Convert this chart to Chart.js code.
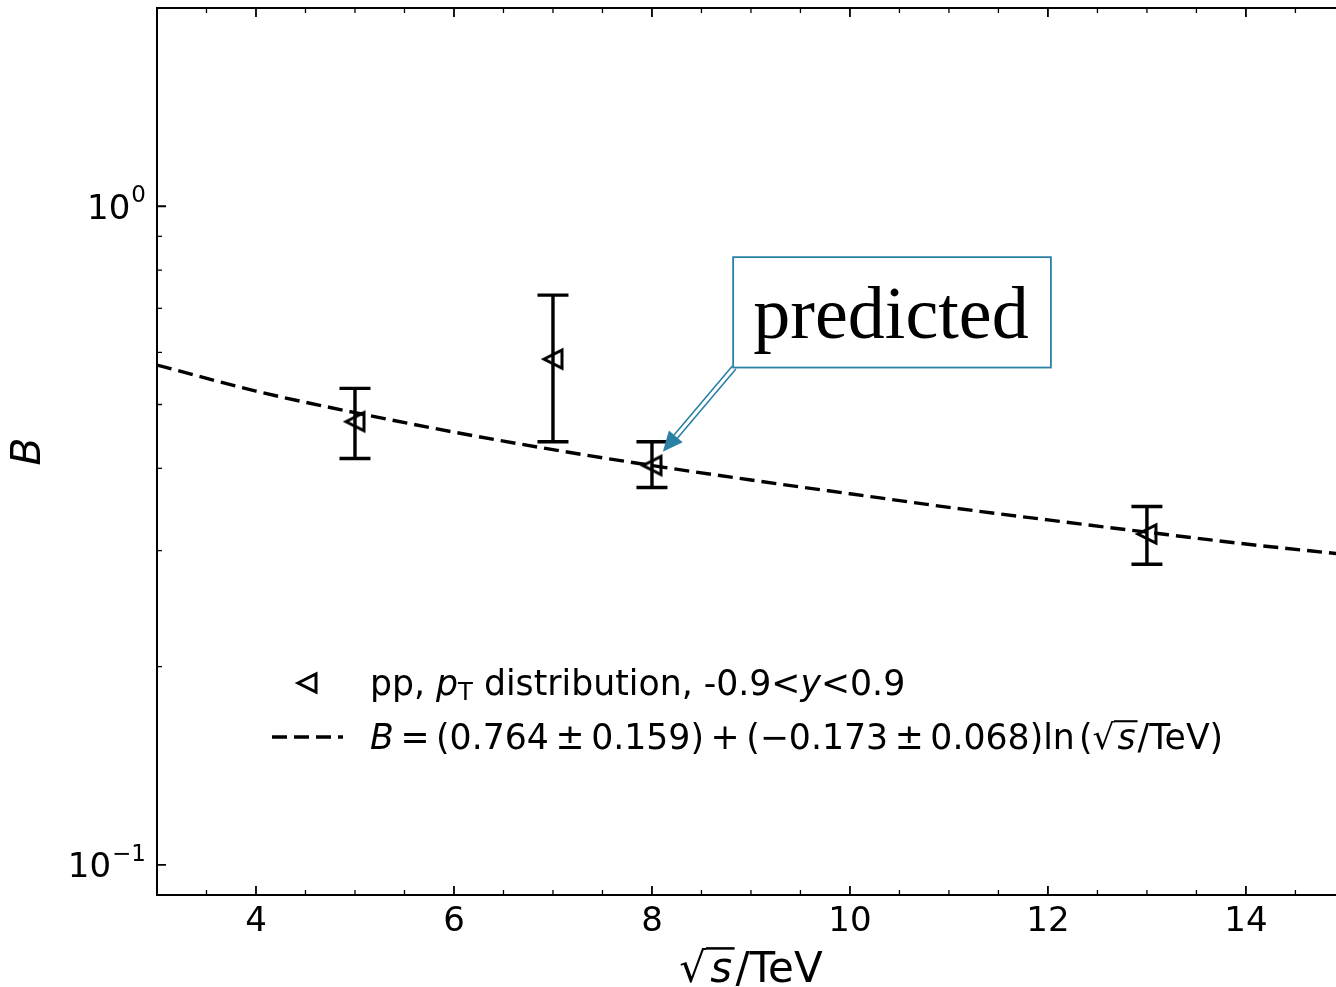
<!DOCTYPE html>
<html>
<head>
<meta charset="utf-8">
<script src="https://cdn.jsdelivr.net/npm/chart.js@4.4.0/dist/chart.umd.min.js"></script>
<style>
  html, body { margin: 0; padding: 0; background: #fff; overflow: hidden; }
  #wrap { width: 1336px; height: 987px; }
</style>
</head>
<body>
<div id="wrap"><canvas id="grafico" width="1336" height="987"></canvas></div>
<script>
// datos
const energias = [5, 7, 8, 13];
const valoresB = [0.471, 0.586, 0.404, 0.318];
const errInf = [0.414, 0.439, 0.374, 0.286];
const errSup = [0.529, 0.733, 0.439, 0.350];

// curva del ajuste
const ajusteX = [3, 4, 5, 6, 7, 8, 9, 10, 11, 12, 13, 14, 15];
const ajusteB = [0.574, 0.524, 0.486, 0.454, 0.427, 0.404, 0.384, 0.366, 0.349, 0.334, 0.320, 0.307, 0.296];

const xMayores = [4, 6, 8, 10, 12, 14];
const xMenores = [3.5, 4.5, 5, 5.5, 6.5, 7, 7.5, 8.5, 9, 9.5, 10.5, 11, 11.5, 12.5, 13, 13.5, 14.5];
const yMayores = [0.1, 1];
const yEtiquetas = [['10', '\u22121'], ['10', '0']];
const yMenores = [0.2, 0.3, 0.4, 0.5, 0.6, 0.7, 0.8, 0.9, 2];

const FUENTE = '"DejaVu Sans", sans-serif';
const AZUL = '#2b80a5';

// marcador triangulo hacia la izquierda (hueco)
function crearTriangulo() {
    const c = document.createElement('canvas');
    c.width = 26; c.height = 26;
    const g = c.getContext('2d');
    g.strokeStyle = '#000';
    g.lineWidth = 3;
    g.lineJoin = 'miter';
    g.beginPath();
    g.moveTo(4, 13);
    g.lineTo(22, 4);
    g.lineTo(22, 22);
    g.closePath();
    g.stroke();
    return c;
}
const triangulo = crearTriangulo();

// texto con tramos (cursiva, subindice, raiz, huecos)
function textoRico(ctx, x, y, tramos, tam, soloMedir) {
    let cx = x;
    tramos.forEach(t => {
        if (t.gap) { cx += t.gap * tam; return; }
        const esc = t.esc || 1;
        ctx.font = (t.it ? 'italic ' : '') + (tam * esc) + 'px ' + FUENTE;
        const w = ctx.measureText(t.s).width;
        if (!soloMedir) {
            ctx.fillText(t.s, cx, y + (t.dy || 0) * tam);
            if (t.raya) {
                ctx.save();
                ctx.lineWidth = Math.max(1.5, tam * 0.06);
                ctx.beginPath();
                ctx.moveTo(cx - tam * 0.1, y - tam * 0.8);
                ctx.lineTo(cx + w + tam * 0.06, y - tam * 0.8);
                ctx.stroke();
                ctx.restore();
            }
        }
        cx += w;
    });
    return cx - x;
}

const barrasError = {
    id: 'barrasError',
    beforeDatasetsDraw(chart) {
        const { ctx, scales: { x, y } } = chart;
        ctx.save();
        ctx.strokeStyle = '#000';
        ctx.lineWidth = 3.4;
        energias.forEach((e, i) => {
            const px = x.getPixelForValue(e);
            const p1 = y.getPixelForValue(errSup[i]);
            const p2 = y.getPixelForValue(errInf[i]);
            ctx.beginPath();
            ctx.moveTo(px, p1); ctx.lineTo(px, p2);
            ctx.moveTo(px - 15.5, p1); ctx.lineTo(px + 15.5, p1);
            ctx.moveTo(px - 15.5, p2); ctx.lineTo(px + 15.5, p2);
            ctx.stroke();
        });
        ctx.restore();
    }
};

const ejes = {
    id: 'ejes',
    afterDraw(chart) {
        const { ctx, chartArea: a, scales: { x, y } } = chart;
        ctx.save();
        ctx.strokeStyle = '#000';
        ctx.fillStyle = '#000';

        // marcas hacia dentro
        ctx.lineWidth = 1.8;
        ctx.beginPath();
        xMayores.forEach(v => {
            const p = x.getPixelForValue(v);
            ctx.moveTo(p, a.bottom); ctx.lineTo(p, a.bottom - 9);
            ctx.moveTo(p, a.top); ctx.lineTo(p, a.top + 9);
        });
        yMayores.forEach(v => {
            const p = y.getPixelForValue(v);
            ctx.moveTo(a.left, p); ctx.lineTo(a.left + 9, p);
        });
        ctx.stroke();
        ctx.lineWidth = 1.3;
        ctx.beginPath();
        xMenores.forEach(v => {
            const p = x.getPixelForValue(v);
            ctx.moveTo(p, a.bottom); ctx.lineTo(p, a.bottom - 5);
            ctx.moveTo(p, a.top); ctx.lineTo(p, a.top + 5);
        });
        yMenores.forEach(v => {
            const p = y.getPixelForValue(v);
            ctx.moveTo(a.left, p); ctx.lineTo(a.left + 5, p);
        });
        ctx.stroke();

        // bordes
        ctx.lineWidth = 2;
        ctx.beginPath();
        ctx.moveTo(a.right + 2, a.top); ctx.lineTo(a.left, a.top);
        ctx.lineTo(a.left, a.bottom); ctx.lineTo(a.right + 2, a.bottom);
        ctx.stroke();

        // etiquetas x
        ctx.font = '34px ' + FUENTE;
        ctx.textAlign = 'center';
        ctx.textBaseline = 'alphabetic';
        xMayores.forEach(v => ctx.fillText(String(v), x.getPixelForValue(v), a.bottom + 36));

        // etiquetas y (potencias de diez)
        ctx.textAlign = 'left';
        yMayores.forEach((v, i) => {
            const p = y.getPixelForValue(v);
            const [base, exp] = yEtiquetas[i];
            ctx.font = '34px ' + FUENTE;
            const wb = ctx.measureText(base).width;
            ctx.font = '23px ' + FUENTE;
            const we = ctx.measureText(exp).width;
            const x0 = a.left - 12 - wb - we;
            ctx.font = '34px ' + FUENTE;
            ctx.fillText(base, x0, p + 12.5);
            ctx.font = '23px ' + FUENTE;
            ctx.fillText(exp, x0 + wb + 1, p - 4);
        });

        // titulo x
        const tit = [{ s: '\u221A' }, { gap: 0.1 }, { s: 's', it: true, raya: true }, { gap: 0.08 }, { s: '/TeV' }];
        const wt = textoRico(ctx, 0, 0, tit, 42, true);
        const centro = (a.left + x.getPixelForValue(15)) / 2;
        textoRico(ctx, centro - wt / 2, 982, tit, 42);

        // titulo y
        ctx.save();
        ctx.translate(29, (a.top + a.bottom) / 2);
        ctx.rotate(-Math.PI / 2);
        ctx.textAlign = 'center';
        ctx.textBaseline = 'middle';
        ctx.font = 'italic 41px ' + FUENTE;
        ctx.fillText('B', 0, 0);
        ctx.restore();

        ctx.restore();
    }
};

const leyenda = {
    id: 'leyenda',
    afterDraw(chart) {
        const { ctx } = chart;
        ctx.save();
        ctx.fillStyle = '#000';
        ctx.strokeStyle = '#000';
        ctx.textAlign = 'left';
        ctx.textBaseline = 'alphabetic';
        // fila 1
        ctx.drawImage(triangulo, 307 - 13, 683 - 13);
        textoRico(ctx, 370, 695, [
            { s: 'pp, ' }, { s: 'p', it: true }, { s: 'T', esc: 0.7, dy: 0.15 },
            { s: ' distribution, -0.9<' }, { s: 'y', it: true }, { s: '<0.9' }
        ], 34.7);
        // fila 2
        ctx.lineWidth = 3.4;
        ctx.setLineDash([15, 7]);
        ctx.beginPath();
        ctx.moveTo(272, 737); ctx.lineTo(343, 737);
        ctx.stroke();
        ctx.setLineDash([]);
        const g = 0.19;
        textoRico(ctx, 370, 749, [
            { s: 'B', it: true }, { gap: g }, { s: '=' }, { gap: g }, { s: '(0.764' }, { gap: g },
            { s: '\u00B1' }, { gap: g }, { s: '0.159)' }, { gap: g }, { s: '+' }, { gap: g },
            { s: '(\u22120.173' }, { gap: g }, { s: '\u00B1' }, { gap: g }, { s: '0.068)ln' }, { gap: 0.12 },
            { s: '(' }, { s: '\u221A' }, { gap: 0.08 }, { s: 's', it: true, raya: true }, { gap: 0.06 }, { s: '/TeV)' }
        ], 34.7);
        ctx.restore();
    }
};

const anotacion = {
    id: 'anotacion',
    afterDraw(chart) {
        const { ctx, scales: { x, y } } = chart;
        const x0 = x.getPixelForValue(8.82), x1 = x.getPixelForValue(12.03);
        const y0 = y.getPixelForValue(0.837), y1 = y.getPixelForValue(0.569);
        ctx.save();
        ctx.fillStyle = '#fff';
        ctx.fillRect(x0, y0, x1 - x0, y1 - y0);
        ctx.strokeStyle = AZUL;
        ctx.lineWidth = 1.8;
        ctx.strokeRect(x0, y0, x1 - x0, y1 - y0);
        ctx.fillStyle = '#000';
        ctx.font = '74px "Liberation Serif", "Times New Roman", serif';
        ctx.textAlign = 'center';
        ctx.textBaseline = 'alphabetic';
        ctx.fillText('predicted', (x0 + x1) / 2 - 1, y0 + 81);

        // flecha doble
        const sx = x0 + 1, sy = y1;
        const tx = x.getPixelForValue(8.11), ty = y.getPixelForValue(0.424);
        const d = Math.hypot(tx - sx, ty - sy);
        const ux = (tx - sx) / d, uy = (ty - sy) / d;
        const nx = -uy, ny = ux;
        const bx = tx - ux * 20, by = ty - uy * 20;
        ctx.strokeStyle = AZUL;
        ctx.lineWidth = 1.6;
        ctx.beginPath();
        [-2.3, 2.3].forEach(o => {
            ctx.moveTo(sx + nx * o, sy + ny * o);
            ctx.lineTo(bx + nx * o, by + ny * o);
        });
        ctx.stroke();
        ctx.fillStyle = AZUL;
        ctx.beginPath();
        ctx.moveTo(tx, ty);
        ctx.lineTo(bx + nx * 9, by + ny * 9);
        ctx.lineTo(bx - nx * 9, by - ny * 9);
        ctx.closePath();
        ctx.fill();
        ctx.restore();
    }
};

const ctx = document.getElementById('grafico').getContext('2d');
const miGrafico = new Chart(ctx, {
    type: 'scatter',
    data: {
        datasets: [
            {
                type: 'line',
                data: ajusteX.map((v, i) => ({ x: v, y: ajusteB[i] })),
                borderColor: '#000',
                borderWidth: 3.4,
                borderDash: [15, 7],
                pointRadius: 0,
                cubicInterpolationMode: 'monotone',
                fill: false
            },
            {
                type: 'scatter',
                data: energias.map((v, i) => ({ x: v, y: valoresB[i] })),
                pointStyle: triangulo,
                pointRadius: 13,
                borderWidth: 0
            }
        ]
    },
    options: {
        responsive: false,
        animation: false,
        devicePixelRatio: 1,
        layout: { autoPadding: false, padding: { top: 8, right: 0, bottom: 0, left: 0 } },
        plugins: { legend: { display: false }, tooltip: { enabled: false } },
        scales: {
            x: {
                type: 'linear', min: 3, max: 14.91,
                ticks: { display: false }, grid: { display: false }, border: { display: false },
                afterFit: s => { s.height = 92; }
            },
            y: {
                type: 'logarithmic', min: 0.09, max: 2,
                ticks: { display: false }, grid: { display: false }, border: { display: false },
                afterFit: s => { s.width = 157; }
            }
        }
    },
    plugins: [barrasError, ejes, leyenda, anotacion]
});
</script>
</body>
</html>
